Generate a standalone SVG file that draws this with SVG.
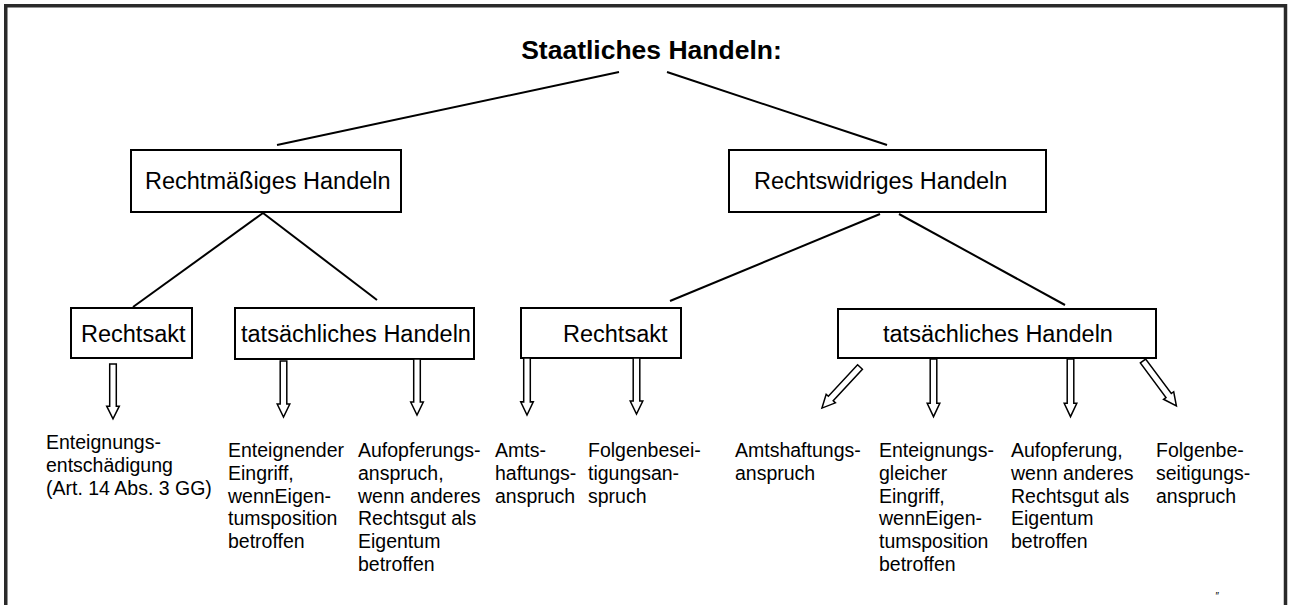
<svg xmlns="http://www.w3.org/2000/svg" xmlns:xlink="http://www.w3.org/1999/xlink" width="1289" height="605" viewBox="0 0 1289 605">
<style>
text{font-family:"Liberation Sans",Arial,Helvetica,sans-serif;fill:#000}
.title{font-size:26.5px;font-weight:bold}
.lbl{font-size:23.5px}
.sm{font-size:19.5px}
.box{fill:#fff;stroke:#000;stroke-width:2}
.ln{stroke:#000;stroke-width:2;fill:none}
.arr{fill:#fff;stroke:#000;stroke-width:1.5;stroke-linejoin:miter}
.frame{fill:none;stroke:#2a2a2a;stroke-width:3.5}
</style>
<defs>
<path id="arw" class="arr" d="M-3.3,0 H3.3 V43 H6.3 L0,56 L-6.3,43 H-3.3 Z"/>
</defs>
<rect width="1289" height="605" fill="#fff"/>
<path class="frame" d="M5.75,606 V5.75 H1285.5 V606"/>

<g id="title">
<text class="title" x="651.5" y="59" text-anchor="middle">Staatliches Handeln:</text>
</g>

<g id="rechtmaessig">
<rect class="box" x="131" y="150" width="270" height="62"/>
<text class="lbl" x="145" y="189">Rechtmäßiges Handeln</text>
</g>
<g id="rechtswidrig">
<rect class="box" x="729" y="150" width="317" height="62"/>
<text class="lbl" x="754" y="189">Rechtswidriges Handeln</text>
</g>
<g id="rechtsakt1">
<rect class="box" x="71" y="308" width="121" height="50"/>
<text class="lbl" x="81" y="342">Rechtsakt</text>
</g>
<g id="tatsaechlich1">
<rect class="box" x="235" y="308" width="239" height="51"/>
<text class="lbl" x="241" y="342">tatsächliches Handeln</text>
</g>
<g id="rechtsakt2">
<rect class="box" x="521" y="308" width="160" height="50"/>
<text class="lbl" x="563" y="342">Rechtsakt</text>
</g>
<g id="tatsaechlich2">
<rect class="box" x="838" y="309" width="318" height="49"/>
<text class="lbl" x="883" y="342">tatsächliches Handeln</text>
</g>

<g id="connectors">
<line class="ln" x1="619" y1="72" x2="277" y2="145"/>
<line class="ln" x1="667" y1="72" x2="887" y2="145"/>
<line class="ln" x1="263" y1="213" x2="133" y2="307"/>
<line class="ln" x1="263" y1="213" x2="377" y2="300"/>
<line class="ln" x1="880" y1="214" x2="670" y2="301"/>
<line class="ln" x1="899" y1="214" x2="1065" y2="305"/>
<use xlink:href="#arw" transform="translate(113,364) scale(1,0.98)"/>
<use xlink:href="#arw" transform="translate(283.5,361)"/>
<use xlink:href="#arw" transform="translate(417,359)"/>
<use xlink:href="#arw" transform="translate(527,358) scale(1,1.02)"/>
<use xlink:href="#arw" transform="translate(636.5,358)"/>
<use xlink:href="#arw" transform="translate(860,367) rotate(42.8)"/>
<use xlink:href="#arw" transform="translate(933.5,359) scale(1,1.03)"/>
<use xlink:href="#arw" transform="translate(1070.5,359) scale(1,1.03)"/>
<use xlink:href="#arw" transform="translate(1143,361) rotate(-36.6)"/>
</g>

<g id="c1"><text class="sm" y="449"><tspan x="46">Enteignungs-</tspan><tspan x="46" dy="22.8">entschädigung</tspan><tspan x="46" dy="22.8">(Art. 14 Abs. 3 GG)</tspan></text></g>
<g id="c2"><text class="sm" y="457"><tspan x="228">Enteignender</tspan><tspan x="228" dy="22.8">Eingriff,</tspan><tspan x="228" dy="22.8">wennEigen-</tspan><tspan x="228" dy="22.8">tumsposition</tspan><tspan x="228" dy="22.8">betroffen</tspan></text></g>
<g id="c3"><text class="sm" y="457"><tspan x="358">Aufopferungs-</tspan><tspan x="358" dy="22.8">anspruch,</tspan><tspan x="358" dy="22.8">wenn anderes</tspan><tspan x="358" dy="22.8">Rechtsgut als</tspan><tspan x="358" dy="22.8">Eigentum</tspan><tspan x="358" dy="22.8">betroffen</tspan></text></g>
<g id="c4"><text class="sm" y="457"><tspan x="495">Amts-</tspan><tspan x="495" dy="22.8">haftungs-</tspan><tspan x="495" dy="22.8">anspruch</tspan></text></g>
<g id="c5"><text class="sm" y="457"><tspan x="588">Folgenbesei-</tspan><tspan x="588" dy="22.8">tigungsan-</tspan><tspan x="588" dy="22.8">spruch</tspan></text></g>
<g id="c6"><text class="sm" y="457"><tspan x="735">Amtshaftungs-</tspan><tspan x="735" dy="22.8">anspruch</tspan></text></g>
<g id="c7"><text class="sm" y="457"><tspan x="879">Enteignungs-</tspan><tspan x="879" dy="22.8">gleicher</tspan><tspan x="879" dy="22.8">Eingriff,</tspan><tspan x="879" dy="22.8">wennEigen-</tspan><tspan x="879" dy="22.8">tumsposition</tspan><tspan x="879" dy="22.8">betroffen</tspan></text></g>
<g id="c8"><text class="sm" y="457"><tspan x="1011">Aufopferung,</tspan><tspan x="1011" dy="22.8">wenn anderes</tspan><tspan x="1011" dy="22.8">Rechtsgut als</tspan><tspan x="1011" dy="22.8">Eigentum</tspan><tspan x="1011" dy="22.8">betroffen</tspan></text></g>
<g id="c9"><text class="sm" y="457"><tspan x="1156">Folgenbe-</tspan><tspan x="1156" dy="22.8">seitigungs-</tspan><tspan x="1156" dy="22.8">anspruch</tspan></text></g>
<text x="1215" y="600" style="font-size:10px;font-style:italic">″</text>
</svg>
